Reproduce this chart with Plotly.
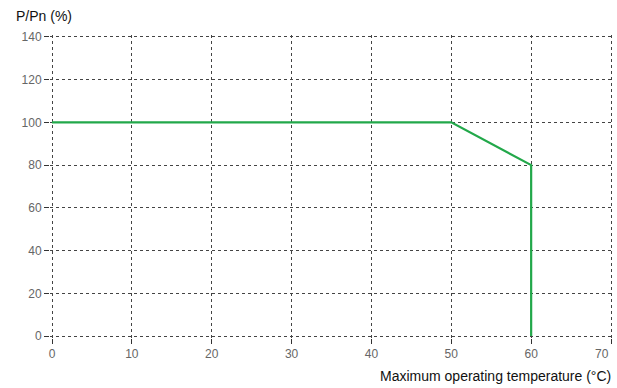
import plotly.graph_objects as go

temps = [0, 50, 60, 60]
power = [100, 100, 80, 0]
x_ticks = [0, 10, 20, 30, 40, 50, 60, 70]
y_ticks = [0, 20, 40, 60, 80, 100, 120, 140]

x_labels = [str(v) for v in x_ticks]
y_labels = [str(v) for v in y_ticks]

tick_font = dict(family="Liberation Sans, Arial", size=12, color="#666666")

fig = go.Figure()
fig.add_trace(go.Scatter(x=temps, y=power, mode="lines",
                         line=dict(color="#22a84a", width=2.2),
                         hoverinfo="skip", showlegend=False))

grid = dict(showgrid=True, gridcolor="#444444", gridwidth=1, griddash="dot",
            zeroline=False, showline=False, ticks="outside", ticklen=5,
            tickcolor="#333333", tickwidth=1, automargin=False,
            tickfont=tick_font)

# last x label is drawn right-aligned at its tick (as in the reference) so it stays inside the page
fig.update_xaxes(range=[-0.25, 70.25], tickvals=x_ticks,
                 ticktext=x_labels[:-1] + [""], **grid)
fig.update_yaxes(range=[-0.9, 140.9], tickvals=y_ticks, ticktext=y_labels, **grid)

fig.update_layout(
    width=617, height=388, autosize=False,
    margin=dict(l=50, r=4, t=35, b=50, autoexpand=False),
    plot_bgcolor="white", paper_bgcolor="white",
    annotations=[
        dict(text=x_labels[-1], xref="x", yref="paper", x=x_ticks[-1], y=-16/303,
             xanchor="right", yanchor="middle", showarrow=False, font=tick_font),
        dict(text="P/Pn (%)", xref="paper", yref="paper", x=-36/563, y=1 + 19/303,
             xanchor="left", yanchor="middle", showarrow=False,
             font=dict(family="Liberation Sans, Arial", size=14, color="#111111")),
        dict(text="Maximum operating temperature (°C)", xref="paper", yref="paper",
             x=1.0, y=-38/303, xanchor="right", yanchor="middle", showarrow=False,
             font=dict(family="Liberation Sans, Arial", size=14, color="#111111")),
    ],
)

fig.write_html("out.html", config={"displayModeBar": False},
               post_script="document.body.style.margin='0';document.body.style.overflow='hidden';")
